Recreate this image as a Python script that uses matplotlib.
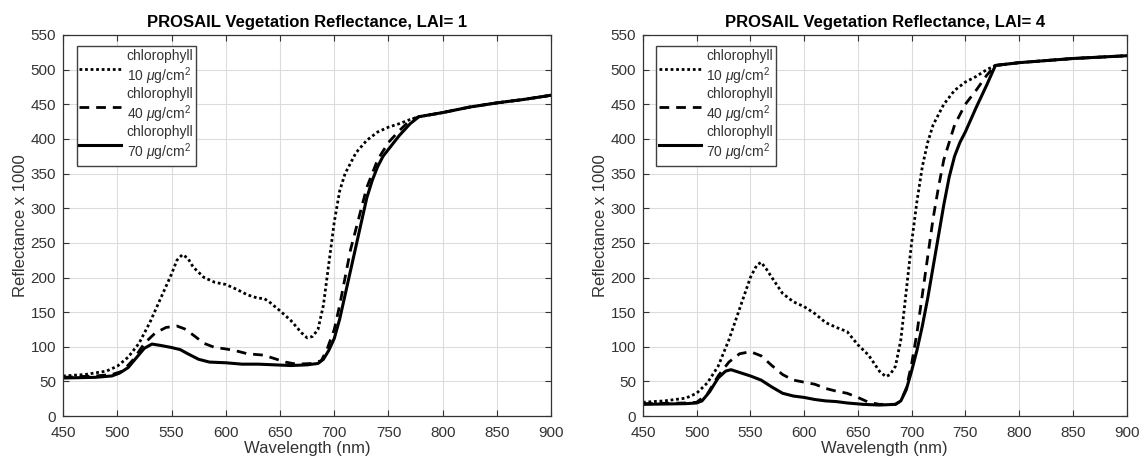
import matplotlib.pyplot as plt

plt.rcParams['font.family'] = ['Liberation Sans', 'DejaVu Sans']
plt.rcParams['mathtext.fontset'] = 'custom'
plt.rcParams['mathtext.rm'] = 'Liberation Sans'
plt.rcParams['mathtext.it'] = 'Liberation Sans:italic'

# ---------------------------------------------------------------
# Data (wavelength nm, reflectance x 1000)
# ---------------------------------------------------------------
nir_wl = [800, 825, 850, 875, 900]
lai1_nir = [438, 446, 452, 457, 463]
lai4_nir = [510, 513, 516, 518, 520]

lai1_c10_wl = [450, 470, 490, 500, 510, 520, 530, 540, 550, 555, 560, 565, 570, 580, 590, 600, 610, 620, 630, 635, 640, 650, 660, 670, 675, 680, 685, 690, 695, 700, 705, 710, 720, 730, 740, 750, 760, 770, 778]
lai1_c10 = [58, 60, 65, 72, 85, 105, 135, 170, 205, 225, 233, 228, 215, 200, 193, 190, 183, 175, 170, 170, 165, 152, 138, 120, 113, 115, 125, 160, 220, 280, 325, 350, 380, 398, 410, 417, 422, 428, 432]

lai1_c40_wl = [450, 480, 495, 505, 515, 525, 535, 545, 555, 562, 570, 580, 590, 600, 610, 620, 635, 645, 655, 665, 680, 688, 693, 700, 705, 710, 715, 720, 730, 740, 750, 760, 770, 778]
lai1_c40 = [56, 58, 60, 65, 82, 105, 120, 128, 130, 126, 117, 105, 99, 97, 94, 90, 88, 83, 78, 75, 76, 80, 95, 125, 160, 200, 240, 270, 330, 370, 395, 412, 427, 432]

lai1_c70_wl = [450, 480, 495, 502, 510, 518, 525, 532, 540, 550, 558, 565, 575, 585, 600, 615, 630, 645, 660, 675, 685, 690, 695, 700, 705, 710, 715, 720, 725, 730, 735, 740, 745, 750, 760, 770, 778]
lai1_c70 = [55, 56, 58, 62, 70, 85, 98, 104, 102, 99, 96, 90, 82, 78, 77, 75, 75, 74, 73, 74, 76, 82, 95, 112, 140, 175, 210, 245, 280, 315, 340, 360, 375, 385, 405, 422, 432]

lai4_c10_wl = [450, 470, 490, 500, 510, 520, 530, 540, 550, 556, 560, 565, 570, 580, 590, 600, 610, 620, 630, 640, 650, 660, 670, 676, 680, 685, 690, 695, 700, 705, 710, 715, 720, 730, 740, 750, 760, 770, 778]
lai4_c10 = [20, 22, 26, 33, 48, 72, 110, 155, 200, 218, 222, 212, 200, 177, 165, 158, 148, 135, 128, 122, 103, 88, 65, 57, 60, 72, 110, 180, 250, 310, 360, 395, 420, 450, 470, 482, 490, 500, 506]

lai4_c40_wl = [450, 490, 500, 510, 520, 530, 540, 550, 560, 570, 580, 590, 600, 610, 620, 630, 640, 650, 660, 670, 685, 690, 695, 700, 705, 710, 715, 720, 725, 730, 740, 750, 760, 770, 778]
lai4_c40 = [18, 19, 20, 32, 58, 78, 90, 93, 87, 73, 60, 52, 49, 46, 40, 36, 33, 27, 20, 17, 17, 22, 40, 75, 120, 175, 230, 285, 330, 370, 420, 450, 470, 492, 506]

lai4_c70_wl = [450, 490, 500, 505, 512, 520, 527, 532, 540, 550, 560, 570, 580, 590, 600, 610, 620, 630, 640, 655, 670, 685, 690, 695, 700, 705, 710, 715, 720, 725, 730, 735, 740, 745, 750, 760, 770, 778]
lai4_c70 = [17, 18, 19, 22, 35, 55, 65, 67, 63, 58, 52, 42, 33, 29, 27, 24, 22, 21, 19, 17, 16, 17, 22, 38, 65, 95, 130, 170, 215, 260, 305, 345, 375, 395, 410, 445, 478, 506]

panels = [
    ("PROSAIL Vegetation Reflectance, LAI= 1", lai1_nir,
     [(lai1_c10_wl, lai1_c10), (lai1_c40_wl, lai1_c40), (lai1_c70_wl, lai1_c70)]),
    ("PROSAIL Vegetation Reflectance, LAI= 4", lai4_nir,
     [(lai4_c10_wl, lai4_c10), (lai4_c40_wl, lai4_c40), (lai4_c70_wl, lai4_c70)]),
]
labels = ["chlorophyll\n10 $\\mu$g/cm$^2$",
          "chlorophyll\n40 $\\mu$g/cm$^2$",
          "chlorophyll\n70 $\\mu$g/cm$^2$"]
styles = [(0, (1, 1)), (0, (3.5, 2.5)), '-']
widths = [2.0, 2.0, 2.2]

fig = plt.figure(figsize=(11.46, 4.66), dpi=100)
axes = [fig.add_axes([0.055, 0.107, 0.426, 0.818]),
        fig.add_axes([0.561, 0.107, 0.422, 0.818])]

tick_col = '#333333'
for ax, (title, nir, series) in zip(axes, panels):
    for (wl, r), ls, lw, lab in zip(series, styles, widths, labels):
        ax.plot(list(wl) + nir_wl, list(r) + nir, color='black',
                linestyle=ls, linewidth=lw, label=lab)
    ax.set_xlim(450, 900)
    ax.set_ylim(0, 550)
    ax.set_xticks(range(450, 901, 50))
    ax.set_yticks(range(0, 551, 50))
    ax.grid(True, color='#dcdcdc', linewidth=0.8)
    ax.set_axisbelow(True)
    ax.tick_params(direction='in', top=True, right=True, labelsize=11,
                   colors=tick_col, length=4)
    ax.tick_params(axis='x', pad=7)
    ax.tick_params(axis='y', pad=5)
    for sp in ax.spines.values():
        sp.set_color(tick_col)
        sp.set_linewidth(0.9)
    ax.set_title(title, fontsize=12, fontweight='bold', pad=6)
    ax.set_xlabel("Wavelength (nm)", fontsize=12, color=tick_col, labelpad=1)
    ax.set_ylabel("Reflectance x 1000", fontsize=12, color=tick_col, labelpad=2)
    leg = ax.legend(loc='upper left', bbox_to_anchor=(0.028, 0.97), fontsize=10,
                    handlelength=3.0, handletextpad=0.4, borderpad=0.2,
                    labelspacing=0.0, borderaxespad=0, fancybox=False,
                    framealpha=1, edgecolor='#404040')
    leg.get_frame().set_linewidth(1.0)
    for t in leg.get_texts():
        t.set_linespacing(1.15)
        t.set_color(tick_col)

fig.savefig("out.png", dpi=100)
